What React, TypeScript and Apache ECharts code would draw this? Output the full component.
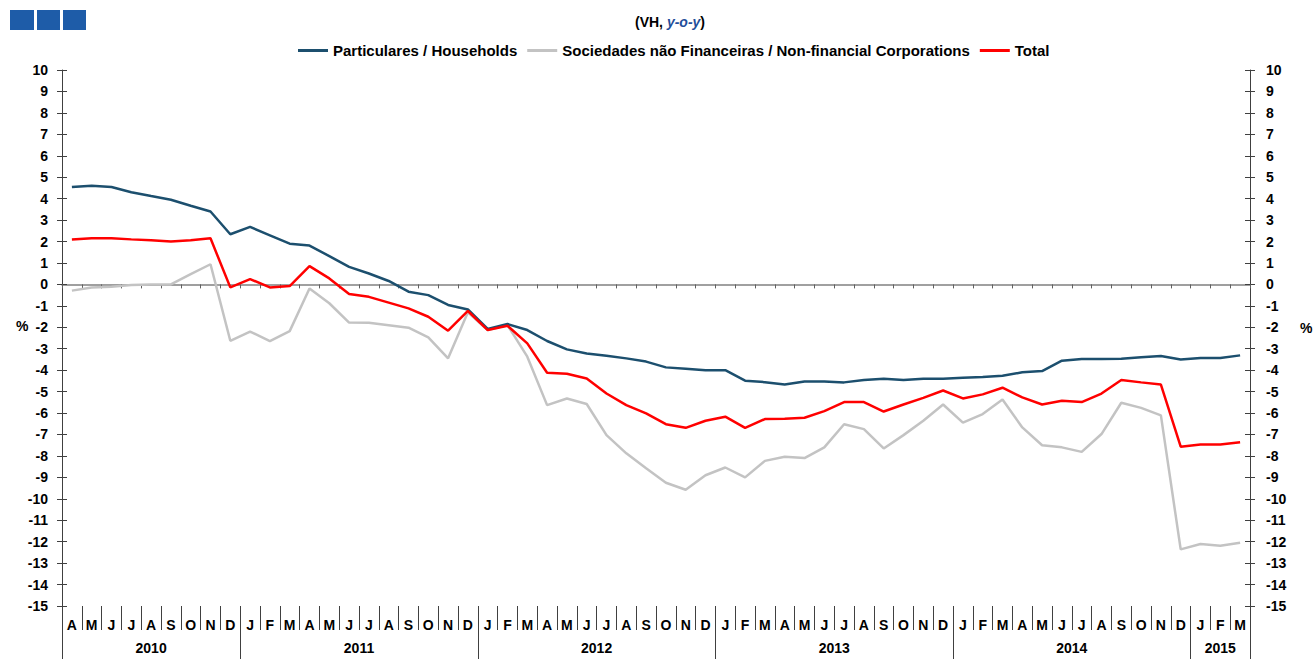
import React, { useEffect, useRef } from "react";
import * as echarts from "echarts";

const months = [
  "A", "M", "J", "J", "A", "S", "O", "N", "D",
  "J", "F", "M", "A", "M", "J", "J", "A", "S", "O", "N", "D",
  "J", "F", "M", "A", "M", "J", "J", "A", "S", "O", "N", "D",
  "J", "F", "M", "A", "M", "J", "J", "A", "S", "O", "N", "D",
  "J", "F", "M", "A", "M", "J", "J", "A", "S", "O", "N", "D",
  "J", "F", "M",
];

const yearNames = ["2010", "2011", "2012", "2013", "2014", "2015"];
const yearMonthCounts = [9, 12, 12, 12, 12, 3];

const households = [
  4.54, 4.6, 4.54, 4.3, 4.12, 3.95, 3.67, 3.4, 2.34, 2.68,
  2.29, 1.9, 1.81, 1.32, 0.82, 0.51, 0.16, -0.34, -0.5, -0.96,
  -1.17, -2.08, -1.85, -2.13, -2.64, -3.03, -3.22, -3.33, -3.45, -3.6,
  -3.87, -3.93, -4.0, -4.0, -4.49, -4.56, -4.67, -4.53, -4.53, -4.57,
  -4.46, -4.4, -4.46, -4.4, -4.4, -4.35, -4.32, -4.26, -4.1, -4.04,
  -3.56, -3.48, -3.48, -3.47, -3.4, -3.34, -3.5, -3.43, -3.43, -3.31,
];

const nonFinancial = [
  -0.29, -0.14, -0.11, -0.03, 0.0, 0.0, 0.48, 0.94, -2.63, -2.2,
  -2.65, -2.18, -0.19, -0.88, -1.78, -1.79, -1.9, -2.02, -2.47, -3.45,
  -1.3, -2.13, -1.9, -3.37, -5.63, -5.32, -5.58, -7.03, -7.88, -8.58,
  -9.25, -9.58, -8.9, -8.54, -9.0, -8.23, -8.04, -8.1, -7.6, -6.52,
  -6.75, -7.65, -7.03, -6.36, -5.6, -6.45, -6.05, -5.37, -6.67, -7.5,
  -7.6, -7.81, -6.98, -5.52, -5.76, -6.11, -12.36, -12.11, -12.19, -12.05,
];

const total = [
  2.09, 2.15, 2.15, 2.1, 2.06, 2.0, 2.06, 2.15, -0.14, 0.25,
  -0.14, -0.08, 0.85, 0.28, -0.45, -0.58, -0.85, -1.12, -1.51, -2.16,
  -1.24, -2.13, -1.93, -2.75, -4.12, -4.17, -4.39, -5.09, -5.63, -6.02,
  -6.52, -6.69, -6.36, -6.17, -6.69, -6.28, -6.27, -6.22, -5.91, -5.49,
  -5.49, -5.93, -5.6, -5.29, -4.95, -5.32, -5.13, -4.82, -5.27, -5.6,
  -5.43, -5.49, -5.09, -4.46, -4.57, -4.67, -7.57, -7.47, -7.47, -7.36,
];

const seriesNames = [
  "Particulares / Households",
  "Sociedades não Financeiras / Non-financial Corporations",
  "Total",
];

const FONT = "Liberation Sans, Arial, Helvetica, sans-serif";

export default function App() {
  const ref = useRef<HTMLDivElement>(null);

  useEffect(() => {
    if (!ref.current) return;
    const chart = echarts.init(ref.current, null, { renderer: "svg" });

    const yearOfMonth: string[] = [];
    const yearStarts: number[] = [];
    const yearLabelIdx: Record<number, boolean> = {};
    let acc = 0;
    yearNames.forEach((y, k) => {
      const n = yearMonthCounts[k];
      yearStarts.push(acc);
      for (let j = 0; j < n; j++) yearOfMonth.push(y);
      const mid = acc + Math.floor((n - 1) / 2);
      yearLabelIdx[mid] = n % 2 === 0;
      acc += n;
    });

    const axisColor = "#404040";
    const labelStyle = { fontFamily: FONT, fontWeight: "bold" as const, fontSize: 14, color: "#000" };

    const yCommon = {
      type: "value" as const,
      min: -15,
      max: 10,
      interval: 1,
      splitLine: { show: false },
    };

    chart.setOption({
      animation: false,
      backgroundColor: "#fff",
      textStyle: { fontFamily: FONT },
      title: {
        text: "{a|(VH, }{b|y-o-y}{a|)}",
        left: 630,
        top: 10,
        textStyle: {
          rich: {
            a: { fontFamily: FONT, fontWeight: "bold", fontSize: 14, color: "#000" },
            b: { fontFamily: FONT, fontWeight: "bold", fontStyle: "italic", fontSize: 14, color: "#1f4e9a" },
          },
        },
      },
      legend: {
        top: 38,
        left: 293,
        icon: "rect",
        itemWidth: 30,
        itemHeight: 3,
        itemGap: 10,
        textStyle: { ...labelStyle, fontSize: 15 },
        data: seriesNames,
      },
      grid: { left: 62, right: 63, top: 70, bottom: 53, containLabel: false },
      xAxis: [
        {
          type: "category",
          data: months,
          position: "bottom",
          boundaryGap: true,
          axisLine: { show: false, onZero: false },
          axisTick: { show: true, interval: 0, length: 24, lineStyle: { color: axisColor } },
          axisLabel: { ...labelStyle, interval: 0, margin: 12 },
          splitLine: { show: false },
        },
        {
          type: "category",
          data: yearOfMonth,
          position: "bottom",
          boundaryGap: true,
          axisLine: { show: false, onZero: false },
          axisTick: {
            show: true,
            interval: (idx: number) => yearStarts.indexOf(idx) >= 0,
            length: 53,
            lineStyle: { color: axisColor },
          },
          axisLabel: {
            ...labelStyle,
            margin: 35,
            interval: (idx: number) => idx in yearLabelIdx,
            formatter: (val: string, idx: number) =>
              yearLabelIdx[idx] ? "{s|" + val + "}" : "{n|" + val + "}",
            rich: {
              s: { ...labelStyle, padding: [0, 0, 0, 19.8] },
              n: { ...labelStyle },
            },
          },
          splitLine: { show: false },
        },
        {
          type: "category",
          data: months,
          position: "bottom",
          boundaryGap: true,
          axisLine: { show: true, onZero: true, onZeroAxisIndex: 0, lineStyle: { color: "#808080", width: 1.5 } },
          axisTick: { show: true, interval: 0, length: 4, lineStyle: { color: "#606060" } },
          axisLabel: { show: false },
          splitLine: { show: false },
        },
      ],
      yAxis: [
        {
          ...yCommon,
          position: "left",
          axisLine: { show: true, onZero: false, lineStyle: { color: axisColor } },
          axisTick: { show: true, length: 5, lineStyle: { color: axisColor } },
          axisLabel: { ...labelStyle, margin: 14 },
        },
        {
          ...yCommon,
          position: "left",
          axisLine: { show: false, onZero: false },
          axisTick: { show: true, inside: true, length: 5, lineStyle: { color: axisColor } },
          axisLabel: { show: false },
        },
        {
          ...yCommon,
          position: "right",
          axisLine: { show: true, onZero: false, lineStyle: { color: axisColor } },
          axisTick: { show: true, length: 5, lineStyle: { color: axisColor } },
          axisLabel: { ...labelStyle, margin: 16 },
        },
        {
          ...yCommon,
          position: "right",
          axisLine: { show: false, onZero: false },
          axisTick: { show: true, inside: true, length: 5, lineStyle: { color: axisColor } },
          axisLabel: { show: false },
        },
      ],
      graphic: [
        { type: "rect", left: 10, top: 10, shape: { width: 24, height: 20 }, style: { fill: "#1e5ca8" } },
        { type: "rect", left: 37, top: 10, shape: { width: 23, height: 20 }, style: { fill: "#1e5ca8" } },
        { type: "rect", left: 63, top: 10, shape: { width: 23, height: 20 }, style: { fill: "#1e5ca8" } },
        { type: "text", left: 16, top: 319, style: { text: "%", ...labelStyle, fill: "#000" } },
        { type: "text", left: 1300, top: 321, style: { text: "%", ...labelStyle, fill: "#000" } },
      ],
      series: [
        {
          name: seriesNames[0],
          type: "line",
          data: households,
          xAxisIndex: 0,
          yAxisIndex: 0,
          symbol: "none",
          z: 3,
          itemStyle: { color: "#1c4f6e" },
          lineStyle: { color: "#1c4f6e", width: 2.5 },
        },
        {
          name: seriesNames[1],
          type: "line",
          data: nonFinancial,
          xAxisIndex: 0,
          yAxisIndex: 0,
          symbol: "none",
          z: 2,
          itemStyle: { color: "#c3c3c3" },
          lineStyle: { color: "#c3c3c3", width: 2.5 },
        },
        {
          name: seriesNames[2],
          type: "line",
          data: total,
          xAxisIndex: 0,
          yAxisIndex: 0,
          symbol: "none",
          z: 4,
          itemStyle: { color: "#ff0000" },
          lineStyle: { color: "#ff0000", width: 2.5 },
        },
      ],
    });

    return () => chart.dispose();
  }, []);

  return (
    <div
      ref={ref}
      style={{ position: "absolute", left: 0, top: 0, width: 1313, height: 659, background: "#fff" }}
    />
  );
}
